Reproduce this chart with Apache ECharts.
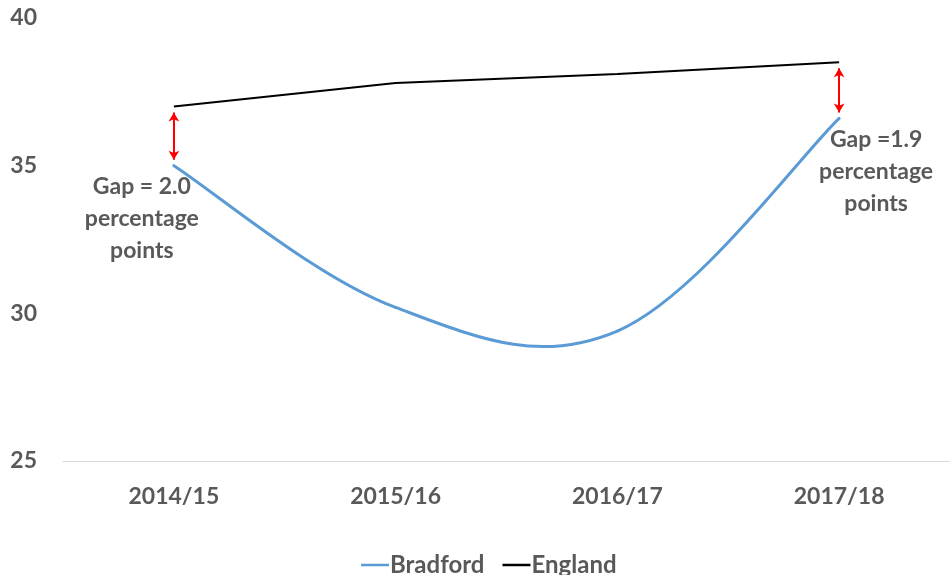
<!DOCTYPE html>
<html>
<head>
<meta charset="utf-8">
<script src="https://cdn.jsdelivr.net/npm/echarts@6/dist/echarts.min.js"></script>
<style>
  html, body { margin: 0; padding: 0; background: #fff; }
  #chart { width: 950px; height: 575px; }
</style>
</head>
<body>
<div id="chart"></div>
<script>
// Share of pupils (%) — Bradford vs England
const years = ['2014/15', '2015/16', '2016/17', '2017/18'];
const bradford = [35.0, 30.2, 29.4, 36.6];
const england = [37.0, 37.8, 38.1, 38.5];
const yTicks = [25, 30, 35, 40];

const gapNotes = [
  { idx: 0, text: 'Gap = 2.0\npercentage\npoints' },
  { idx: 3, text: 'Gap =1.9\npercentage\npoints' }
];

const grey = '#595959';
const blue = '#5b9bd5';
const font = 'Lato, "Open Sans", sans-serif';
const arrowInset = 0.2;   // keep arrow tips just off the two lines
const tension = 0.18;     // cardinal-spline tension for the smoothed Bradford curve

const chart = echarts.init(document.getElementById('chart'));

const gapLines = gapNotes.map(g => [
  { coord: [years[g.idx], england[g.idx] - arrowInset] },
  { coord: [years[g.idx], bradford[g.idx] + arrowInset] }
]);

// One cubic segment per pair of neighbouring points, control points taken
// from the neighbours on either side (ends reuse the end point).
function renderSmoothSegment(params, api) {
  const i = params.dataIndex;
  const n = bradford.length;
  if (i >= n - 1) return null;
  const pt = k => {
    const j = Math.max(0, Math.min(n - 1, k));
    return api.coord([j, bradford[j]]);
  };
  const p0 = pt(i - 1), p1 = pt(i), p2 = pt(i + 1), p3 = pt(i + 2);
  return {
    type: 'bezierCurve',
    shape: {
      x1: p1[0], y1: p1[1],
      x2: p2[0], y2: p2[1],
      cpx1: p1[0] + (p2[0] - p0[0]) * tension,
      cpy1: p1[1] + (p2[1] - p0[1]) * tension,
      cpx2: p2[0] - (p3[0] - p1[0]) * tension,
      cpy2: p2[1] - (p3[1] - p1[1]) * tension
    },
    style: { stroke: blue, lineWidth: 3, fill: null, lineCap: 'round' }
  };
}

chart.setOption({
  animation: false,
  textStyle: { fontFamily: font },
  grid: { left: 63, top: 18, bottom: 114, width: 892 },
  xAxis: {
    type: 'category',
    data: years,
    boundaryGap: true,
    axisLine: { lineStyle: { color: '#d9d9d9', width: 1 } },
    axisTick: { show: false },
    axisLabel: { color: grey, fontSize: 23, fontWeight: 'bold', margin: 24, fontFamily: font }
  },
  yAxis: {
    type: 'value',
    min: yTicks[0],
    max: yTicks[yTicks.length - 1],
    interval: yTicks[1] - yTicks[0],
    axisLine: { show: false },
    axisTick: { show: false },
    splitLine: { show: false },
    axisLabel: { color: grey, fontSize: 23, fontWeight: 'bold', margin: 26, fontFamily: font }
  },
  legend: {
    top: 548,
    left: 356,
    icon: 'rect',
    itemWidth: 28,
    itemHeight: 2.5,
    itemGap: 18,
    textStyle: { color: grey, fontSize: 24, fontWeight: 'bold', fontFamily: font, padding: [0, 0, 0, -4] },
    data: [
      { name: 'Bradford', itemStyle: { color: blue } },
      { name: 'England', itemStyle: { color: '#000' } }
    ]
  },
  series: [
    {
      name: 'Bradford',
      type: 'custom',
      data: bradford.map((v, i) => [i, v]),
      encode: { x: 0, y: 1 },
      itemStyle: { color: blue },
      renderItem: renderSmoothSegment,
      z: 3
    },
    {
      name: 'England',
      type: 'line',
      data: england,
      symbol: 'none',
      lineStyle: { color: '#000', width: 2 },
      itemStyle: { color: '#000' },
      markLine: {
        silent: true,
        symbol: ['arrow', 'arrow'],
        symbolSize: [8, 9],
        label: { show: false },
        lineStyle: { color: '#ff0000', width: 2, type: 'solid' },
        data: gapLines
      }
    }
  ]
});

// Gap annotations, placed relative to the data points they describe
const notePos = [
  { dx: -32, dy: 5 },
  { dx: 37, dy: 5 }
];
chart.setOption({
  graphic: gapNotes.map((g, i) => {
    const p = chart.convertToPixel({ gridIndex: 0 }, [g.idx, bradford[g.idx]]);
    return {
      type: 'text',
      x: p[0] + notePos[i].dx,
      y: p[1] + notePos[i].dy,
      style: {
        text: g.text,
        fill: grey,
        font: 'bold 23px ' + font,
        lineHeight: 32,
        align: 'center',
        verticalAlign: 'top'
      }
    };
  })
});
</script>
</body>
</html>
